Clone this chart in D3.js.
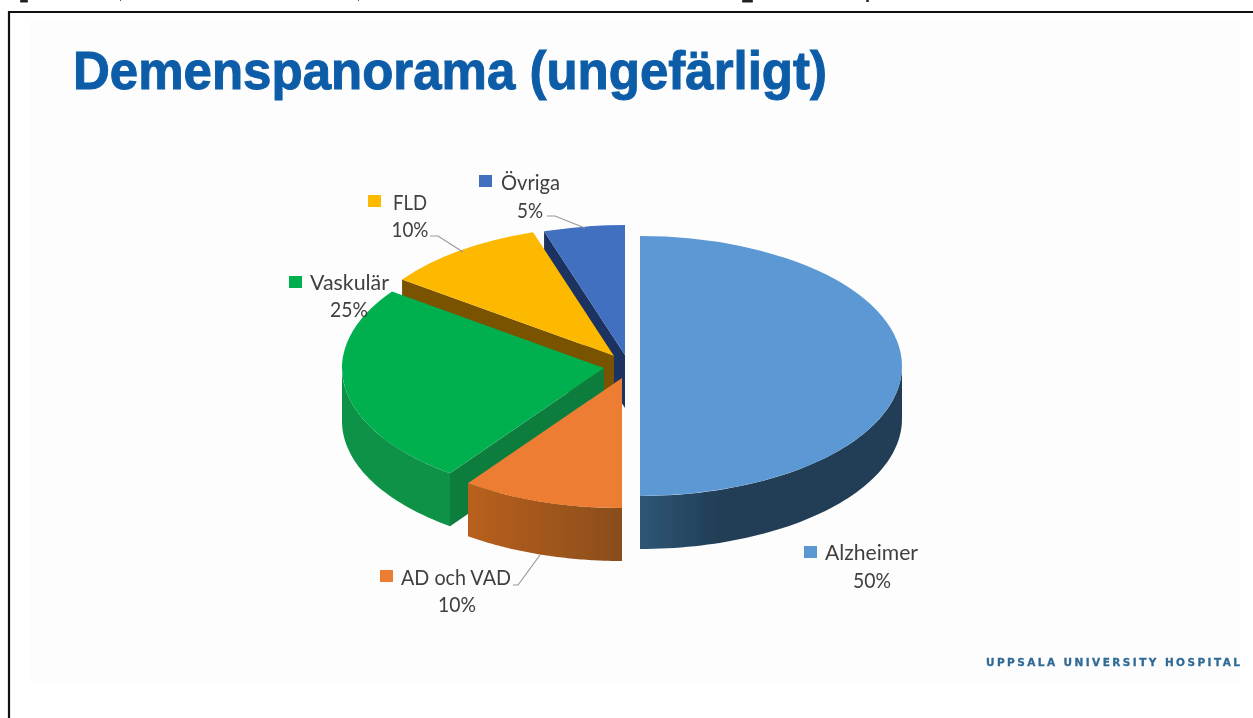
<!DOCTYPE html>
<html><head><meta charset="utf-8">
<script src="https://cdn.jsdelivr.net/npm/d3@7/dist/d3.min.js"></script>
<style>html,body{margin:0;padding:0;background:#fff;overflow:hidden}svg{display:block}</style>
</head><body><svg id="c" width="1253" height="718"></svg>
<script>
const categories = ["Alzheimer","AD och VAD","Vaskulär","FLD","Övriga"];
const values = [50,10,25,10,5];
const topColors = ["#5b98d4","#ed7d31","#00b050","#fdb902","#4270c0"];
const outerLeft = ["#2f5676","#b9601f","#0d9247","#7a5200","#1f3864"];
const outerRight = ["#213e56","#8a4d1e","#0d9247","#7a5200","#1f3864"];
const cutColors = ["#2f5676","#8a4d1e","#0a7d3e","#7a5200","#1c3260"];
const apexX = [640,622,604,614,625];
const apexY = [366,378,368,356,355];
const nameX = [825,401,310,393,501];
const nameWidth = [93,110,79,34,59];
const pctWidth = [38,38,38,37,26];
const labelX = [872,457,349,410,530];
const nameY = [560,585,290,210,190];
const pctY = [588,612,317,237,218];
const swatchX = [804,380,289,368,479];
const swatchY = [546,570,276,195,175];
const leaderLines = [null,
 [[513,585],[518,585],[540,555]],
 null,
 [[430,236],[438,236],[463,252]],
 [[547,216],[555,216],[585,228]]];
const topFragments = [[20,28,2.5],[120,121,1],[358,359,1],[742,753,2.5],[866,869,2]];

const RX = 262, RY = 130, DEPTH = 53;
const svg = d3.select("#c");
const defs = svg.append("defs");
defs.append("filter").attr("id","soft").append("feGaussianBlur").attr("stdDeviation",0.55);

// page frame
svg.append("rect").attr("width",1253).attr("height",718).attr("fill","#ffffff");
svg.append("rect").attr("x",30).attr("y",20).attr("width",1210).attr("height",662).attr("fill","#fdfdfd");
svg.append("path").attr("d","M9 718V12H1253").attr("fill","none").attr("stroke","#111").attr("stroke-width",2.2);
// cropped remains of a caption above the frame: unreadable, so drawn as marks only
topFragments.forEach(d=>svg.append("rect").attr("x",d[0]).attr("y",0).attr("width",d[1]-d[0]).attr("height",d[2])
  .attr("rx",1).attr("fill","#222"));

svg.append("text").attr("x",73).attr("y",89)
  .attr("font-family","Liberation Sans").attr("font-weight",700).attr("font-size",54)
  .attr("textLength",754).attr("lengthAdjust","spacingAndGlyphs")
  .attr("fill","#0b5ca8").attr("stroke","#0b5ca8").attr("stroke-width",1)
  .attr("filter","url(#soft)").text("Demenspanorama (ungefärligt)");

const pie = d3.pie().sort(null).value(d=>d)(values);
const unitArc = d3.arc().innerRadius(0).outerRadius(1);
const ex = (i,a)=>apexX[i]+RX*Math.sin(a);
const ey = (i,a)=>apexY[i]-RY*Math.cos(a);
const line = d3.line();

const g = svg.append("g").attr("filter","url(#soft)");
[4,3,2,1,0].forEach(i=>{
  const p = pie[i];
  const gid = "wall"+i;
  const lg = defs.append("linearGradient").attr("id",gid);
  lg.append("stop").attr("offset","0%").attr("stop-color",outerLeft[i]);
  lg.append("stop").attr("offset","100%").attr("stop-color",outerRight[i]);
  if(i===0){ lg.attr("x1",0).attr("x2",0.3); }

  const a0 = Math.max(p.startAngle, Math.PI/2), a1 = Math.min(p.endAngle, 3*Math.PI/2);
  if(a1>a0){
    const angles = d3.range(0,61).map(k=>a0+(a1-a0)*k/60);
    const upper = angles.map(a=>[ex(i,a),ey(i,a)]);
    const lower = angles.slice().reverse().map(a=>[ex(i,a),ey(i,a)+DEPTH]);
    g.append("path").attr("d",line(upper.concat(lower))+"Z").attr("fill",`url(#${gid})`);
  }
  if(i>=2){
    const a = p.startAngle;
    const c = [apexX[i],apexY[i]], o=[ex(i,a),ey(i,a)];
    g.append("path").attr("d",line([c,o,[o[0],o[1]+DEPTH],[c[0],c[1]+DEPTH]])+"Z").attr("fill",cutColors[i]);
  }
  g.append("path")
    .attr("transform",`translate(${apexX[i]},${apexY[i]}) scale(${RX},${RY})`)
    .attr("d",unitArc(p)).attr("fill",topColors[i]);
});

const lg2 = svg.append("g").attr("filter","url(#soft)");
leaderLines.forEach(l=>{ if(l) lg2.append("path").attr("d",line(l)).attr("fill","none").attr("stroke","#999").attr("stroke-width",1.2); });

const lab = svg.append("g").attr("filter","url(#soft)").attr("font-family","Lato").attr("font-size",21).attr("fill","#404040");
categories.forEach((c,i)=>{
  lab.append("rect").attr("x",swatchX[i]).attr("y",swatchY[i]).attr("width",13).attr("height",12).attr("fill",topColors[i]);
  lab.append("text").attr("x",nameX[i]).attr("y",nameY[i])
    .attr("textLength",nameWidth[i]).attr("lengthAdjust","spacingAndGlyphs").text(c);
  lab.append("text").attr("x",labelX[i]-pctWidth[i]/2).attr("y",pctY[i])
    .attr("textLength",pctWidth[i]).attr("lengthAdjust","spacingAndGlyphs").text(values[i]+"%");
});

svg.append("text").attr("x",986).attr("y",666).attr("font-family","DejaVu Sans").attr("font-weight",700)
  .attr("font-size",10.5).attr("textLength",254).attr("fill","#2f6a96").attr("stroke","#2f6a96").attr("stroke-width",0.3)
  .attr("filter","url(#soft)").text("UPPSALA UNIVERSITY HOSPITAL");
</script></body></html>
